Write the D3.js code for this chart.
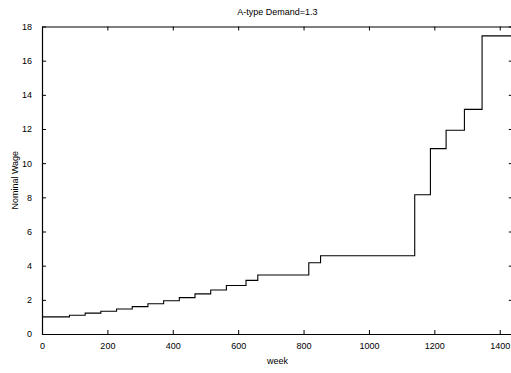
<!DOCTYPE html>
<html><head><meta charset="utf-8">
<script src="https://cdn.jsdelivr.net/npm/d3@7"></script>
<style>
html,body{margin:0;padding:0;background:#fff;}
svg{display:block;}
text{font-family:"Liberation Sans",Arial,Helvetica,sans-serif;fill:#000;}
</style></head><body>
<svg id="c" width="511" height="373"></svg>
<script>
const title = "A-type Demand=1.3";
const xLabel = "week";
const yLabel = "Nominal Wage";
const weeks = [0, 84, 132, 180, 228, 276, 324, 372, 420, 468, 516, 564, 624, 660, 816, 852, 1140, 1188, 1236, 1292, 1346, 1440];
const wage  = [1.0, 1.1, 1.22, 1.33, 1.46, 1.6, 1.77, 1.95, 2.13, 2.35, 2.58, 2.84, 3.14, 3.45, 4.17, 4.58, 8.15, 10.85, 11.93, 13.15, 17.45, 17.45];
const xTicks = [0, 200, 400, 600, 800, 1000, 1200, 1400];
const yTicks = [0, 2, 4, 6, 8, 10, 12, 14, 16, 18];

const svg = d3.select("#c");
const m = {left: 42, top: 26.5, right: 512.8, bottom: 334};
const x = d3.scaleLinear().domain([0, 1440]).range([m.left, m.right]);
const y = d3.scaleLinear().domain([0, 18]).range([m.bottom, m.top]);
const fs = 9;

const gx = svg.append("g").attr("transform", `translate(0,${m.bottom})`)
  .call(d3.axisBottom(x).tickValues(xTicks).tickSizeInner(-4).tickSizeOuter(0).tickPadding(9).tickFormat(d3.format("d")));
svg.append("g").attr("transform", `translate(0,${m.top})`)
  .call(d3.axisTop(x).tickValues(xTicks).tickSizeInner(-4).tickSizeOuter(0).tickFormat(""));
svg.append("g").attr("transform", `translate(${m.left},0)`)
  .call(d3.axisLeft(y).tickValues(yTicks).tickSizeInner(-4).tickSizeOuter(0).tickPadding(10).tickFormat(d3.format("d")));
svg.append("g").attr("transform", `translate(${m.right},0)`)
  .call(d3.axisRight(y).tickValues(yTicks).tickSizeInner(-4).tickSizeOuter(0).tickFormat(""));

svg.selectAll(".domain").attr("stroke", "#000").attr("stroke-width", 1.2);
svg.selectAll(".tick line").attr("stroke", "#000").attr("stroke-width", 1);
svg.selectAll(".tick text").attr("font-size", fs).attr("font-family", "Liberation Sans, Arial, sans-serif").attr("fill", "#000");
gx.selectAll(".tick text").attr("dy", "0.71em");

const pts = weeks.map((w, i) => [w, wage[i]]);
const line = d3.line().x(d => x(d[0])).y(d => y(d[1])).curve(d3.curveStepAfter);
svg.append("path").datum(pts).attr("d", line)
  .attr("fill", "none").attr("stroke", "#000").attr("stroke-width", 1.1);

svg.append("text").attr("x", (m.left + m.right) / 2).attr("y", 15)
  .attr("text-anchor", "middle").attr("font-size", fs).text(title);
svg.append("text").attr("x", (m.left + m.right) / 2).attr("y", 364)
  .attr("text-anchor", "middle").attr("font-size", fs).text(xLabel);
svg.append("text").attr("transform", `translate(17.5,${(m.top + m.bottom) / 2}) rotate(-90)`)
  .attr("text-anchor", "middle").attr("font-size", fs).text(yLabel);
</script>
</body></html>
